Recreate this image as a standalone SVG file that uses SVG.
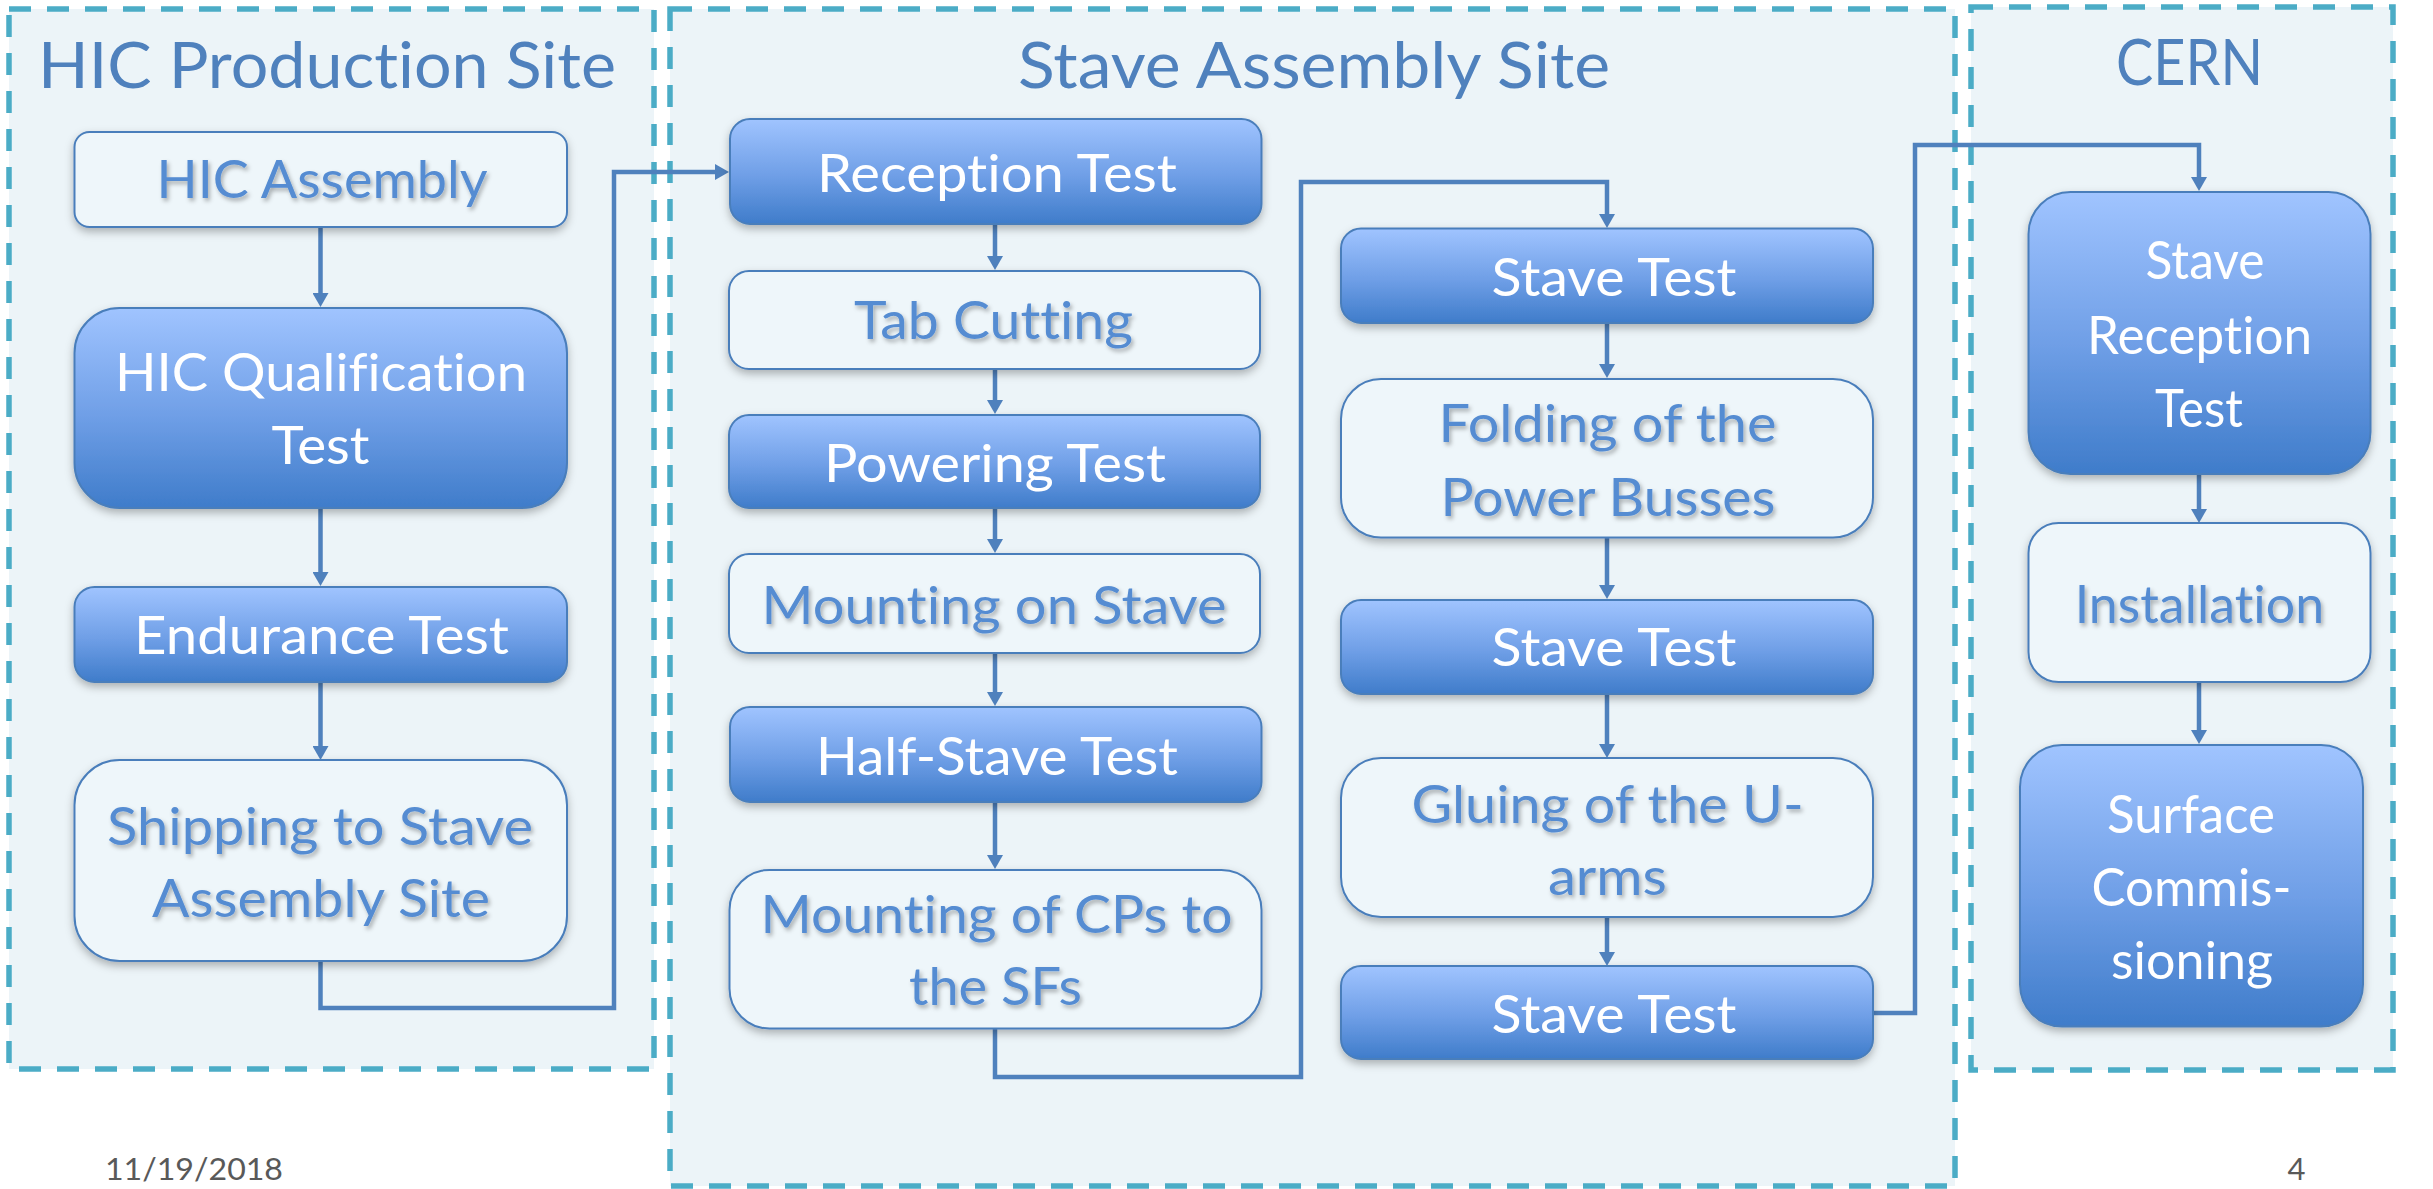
<svg xmlns="http://www.w3.org/2000/svg" width="2433" height="1189" viewBox="0 0 2433 1189">
  <defs>
    <linearGradient id="fillBlue" x1="0" y1="0" x2="0" y2="1">
      <stop offset="0" stop-color="#A0C4FF"/>
      <stop offset="0.55" stop-color="#6E9EE6"/>
      <stop offset="1" stop-color="#3F7CCA"/>
    </linearGradient>
    <filter id="boxShadow" x="-10%" y="-10%" width="120%" height="130%">
      <feDropShadow dx="0" dy="4" stdDeviation="4" flood-color="#000" flood-opacity="0.28"/>
    </filter>
    <filter id="textShadow" x="-5%" y="-20%" width="110%" height="150%">
      <feDropShadow dx="2" dy="3" stdDeviation="2" flood-color="#000" flood-opacity="0.3"/>
    </filter>
    <marker id="arrow" viewBox="0 0 14 16" markerWidth="14" markerHeight="16" refX="6" refY="8" orient="auto" markerUnits="userSpaceOnUse">
      <path d="M0,0 L14,8 L0,16 z" fill="#4F81BD"/>
    </marker>
  </defs>
  <style>
    text { font-variant-ligatures: none; font-feature-settings: "liga" 0, "dlig" 0; }
    .site { fill: #ECF4F8; stroke: #4BACC6; stroke-width: 5.5; stroke-dasharray: 22 16; }
    .title { font-family: Lato, "Open Sans", sans-serif; font-size: 64px; fill: #4F81BD; text-anchor: middle; }
    .filled { fill: url(#fillBlue); stroke: #4A7EBB; stroke-width: 2; filter: url(#boxShadow); }
    .outlined { fill: #EEF6FA; stroke: #4A7EBB; stroke-width: 2; filter: url(#boxShadow); }
    .wt { font-family: Lato, "Open Sans", sans-serif; font-size: 52px; fill: #FFFFFF; text-anchor: middle; }
    .bt { font-family: Lato, "Open Sans", sans-serif; font-size: 52px; fill: #558CD2; text-anchor: middle; filter: url(#textShadow); }
    .conn { fill: none; stroke: #4F81BD; stroke-width: 4.5; stroke-linejoin: miter; }
    .foot { font-family: Lato, "Open Sans", sans-serif; font-size: 31px; fill: #595959; text-anchor: middle; }
  </style>

  <!-- site containers -->
  <g id="site-hic">
    <rect class="site" x="9" y="9" width="645" height="1060"/>
    <text class="title" x="327" y="87.5" textLength="578" lengthAdjust="spacingAndGlyphs">HIC Production Site</text>
  </g>
  <g id="site-stave">
    <rect class="site" x="670" y="9" width="1285" height="1177"/>
    <text class="title" x="1314" y="87.5" textLength="592" lengthAdjust="spacingAndGlyphs">Stave Assembly Site</text>
  </g>
  <g id="site-cern">
    <rect class="site" x="1971" y="7" width="422" height="1063"/>
    <text class="title" x="2189.5" y="85" textLength="147" lengthAdjust="spacingAndGlyphs">CERN</text>
  </g>

  <!-- connectors -->
  <g id="connectors">
    <path class="conn" d="M320.5 227 V299" marker-end="url(#arrow)"/>
    <path class="conn" d="M320.5 508 V578" marker-end="url(#arrow)"/>
    <path class="conn" d="M320.5 682 V752" marker-end="url(#arrow)"/>
    <path class="conn" d="M320.5 961 V1008 H614 V172 H721" marker-end="url(#arrow)"/>
    <path class="conn" d="M995 224 V262" marker-end="url(#arrow)"/>
    <path class="conn" d="M995 369 V406" marker-end="url(#arrow)"/>
    <path class="conn" d="M995 508 V545" marker-end="url(#arrow)"/>
    <path class="conn" d="M995 653 V698" marker-end="url(#arrow)"/>
    <path class="conn" d="M995 802 V861" marker-end="url(#arrow)"/>
    <path class="conn" d="M995 1028 V1077 H1301 V182 H1607 V220" marker-end="url(#arrow)"/>
    <path class="conn" d="M1607 323 V370" marker-end="url(#arrow)"/>
    <path class="conn" d="M1607 537 V591" marker-end="url(#arrow)"/>
    <path class="conn" d="M1607 694 V750" marker-end="url(#arrow)"/>
    <path class="conn" d="M1607 917 V958" marker-end="url(#arrow)"/>
    <path class="conn" d="M1873 1013 H1915 V145 H2199 V183" marker-end="url(#arrow)"/>
    <path class="conn" d="M2199 474 V515" marker-end="url(#arrow)"/>
    <path class="conn" d="M2199 682 V736" marker-end="url(#arrow)"/>
  </g>

  <!-- HIC production site nodes -->
  <g id="hic-assembly">
    <rect class="outlined" x="74.5" y="132" width="492.5" height="95" rx="15"/>
    <text class="bt" x="322" y="198" textLength="331" lengthAdjust="spacingAndGlyphs">HIC Assembly</text>
  </g>
  <g id="hic-qualification-test">
    <rect class="filled" x="74.5" y="308" width="492.5" height="200" rx="45"/>
    <text class="wt" x="321" y="391" textLength="412" lengthAdjust="spacingAndGlyphs">HIC Qualification</text>
    <text class="wt" x="320.5" y="464" textLength="98" lengthAdjust="spacingAndGlyphs">Test</text>
  </g>
  <g id="endurance-test">
    <rect class="filled" x="74.5" y="587" width="492.5" height="95" rx="20"/>
    <text class="wt" x="321.5" y="654" textLength="375" lengthAdjust="spacingAndGlyphs">Endurance Test</text>
  </g>
  <g id="shipping">
    <rect class="outlined" x="74.5" y="760" width="492.5" height="201" rx="45"/>
    <text class="bt" x="320" y="845" textLength="426" lengthAdjust="spacingAndGlyphs">Shipping to Stave</text>
    <text class="bt" x="321" y="917" textLength="338" lengthAdjust="spacingAndGlyphs">Assembly Site</text>
  </g>

  <!-- stave assembly site, first column -->
  <g id="reception-test">
    <rect class="filled" x="730" y="119" width="531.5" height="105" rx="20"/>
    <text class="wt" x="997" y="192" textLength="360" lengthAdjust="spacingAndGlyphs">Reception Test</text>
  </g>
  <g id="tab-cutting">
    <rect class="outlined" x="729" y="271" width="531" height="98" rx="20"/>
    <text class="bt" x="993.5" y="339" textLength="279" lengthAdjust="spacingAndGlyphs">Tab Cutting</text>
  </g>
  <g id="powering-test">
    <rect class="filled" x="729" y="415" width="531" height="93" rx="20"/>
    <text class="wt" x="995" y="482" textLength="342" lengthAdjust="spacingAndGlyphs">Powering Test</text>
  </g>
  <g id="mounting-on-stave">
    <rect class="outlined" x="729" y="554" width="531" height="99" rx="20"/>
    <text class="bt" x="994" y="624" textLength="465" lengthAdjust="spacingAndGlyphs">Mounting on Stave</text>
  </g>
  <g id="half-stave-test">
    <rect class="filled" x="730" y="707" width="531.5" height="95" rx="20"/>
    <text class="wt" x="997" y="775" textLength="362" lengthAdjust="spacingAndGlyphs">Half-Stave Test</text>
  </g>
  <g id="mounting-cps">
    <rect class="outlined" x="729.5" y="870" width="532" height="158.5" rx="40"/>
    <text class="bt" x="996.6" y="933" textLength="472" lengthAdjust="spacingAndGlyphs">Mounting of CPs to</text>
    <text class="bt" x="995.5" y="1005" textLength="173" lengthAdjust="spacingAndGlyphs">the SFs</text>
  </g>

  <!-- stave assembly site, second column -->
  <g id="stave-test-1">
    <rect class="filled" x="1341" y="228.5" width="532" height="94.5" rx="20"/>
    <text class="wt" x="1614" y="296" textLength="245" lengthAdjust="spacingAndGlyphs">Stave Test</text>
  </g>
  <g id="folding-power-busses">
    <rect class="outlined" x="1341" y="379" width="532" height="158.5" rx="40"/>
    <text class="bt" x="1607.5" y="442" textLength="338" lengthAdjust="spacingAndGlyphs">Folding of the</text>
    <text class="bt" x="1608" y="516" textLength="335" lengthAdjust="spacingAndGlyphs">Power Busses</text>
  </g>
  <g id="stave-test-2">
    <rect class="filled" x="1341" y="600" width="532" height="94" rx="20"/>
    <text class="wt" x="1614" y="666" textLength="245" lengthAdjust="spacingAndGlyphs">Stave Test</text>
  </g>
  <g id="gluing-u-arms">
    <rect class="outlined" x="1341" y="758" width="532" height="159" rx="40"/>
    <text class="bt" x="1607.6" y="823" textLength="392" lengthAdjust="spacingAndGlyphs">Gluing of the U-</text>
    <text class="bt" x="1607.4" y="895" textLength="119" lengthAdjust="spacingAndGlyphs">arms</text>
  </g>
  <g id="stave-test-3">
    <rect class="filled" x="1341" y="966" width="532" height="93" rx="20"/>
    <text class="wt" x="1614" y="1033" textLength="245" lengthAdjust="spacingAndGlyphs">Stave Test</text>
  </g>

  <!-- CERN nodes -->
  <g id="stave-reception-test">
    <rect class="filled" x="2028.5" y="192" width="342" height="282" rx="42"/>
    <text class="wt" x="2205" y="279" textLength="119" lengthAdjust="spacingAndGlyphs">Stave</text>
    <text class="wt" x="2199.5" y="354" textLength="225" lengthAdjust="spacingAndGlyphs">Reception</text>
    <text class="wt" x="2199" y="427" textLength="88" lengthAdjust="spacingAndGlyphs">Test</text>
  </g>
  <g id="installation">
    <rect class="outlined" x="2028.5" y="523" width="342" height="159" rx="30"/>
    <text class="bt" x="2199.4" y="623" textLength="249.5" lengthAdjust="spacingAndGlyphs">Installation</text>
  </g>
  <g id="surface-commissioning">
    <rect class="filled" x="2020" y="745" width="343" height="281.5" rx="42"/>
    <text class="wt" x="2191" y="833" textLength="168" lengthAdjust="spacingAndGlyphs">Surface</text>
    <text class="wt" x="2191.4" y="906" textLength="200" lengthAdjust="spacingAndGlyphs">Commis-</text>
    <text class="wt" x="2192" y="979" textLength="162" lengthAdjust="spacingAndGlyphs">sioning</text>
  </g>

  <!-- slide footer -->
  <g id="footer">
    <text class="foot" x="194" y="1180" textLength="178" lengthAdjust="spacingAndGlyphs">11/19/2018</text>
    <text class="foot" x="2296.5" y="1180">4</text>
  </g>
</svg>
